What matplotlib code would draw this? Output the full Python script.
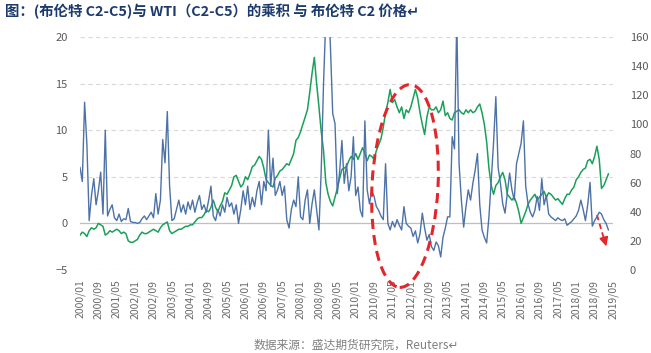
import matplotlib.pyplot as plt
import numpy as np
from matplotlib.lines import Line2D
from matplotlib.patches import Ellipse
from matplotlib.transforms import IdentityTransform

plt.rcParams['font.family'] = ['Noto Sans CJK SC', 'DejaVu Sans']

# monthly readings, 2000/01 onwards
# (Brent C2-C5) x (WTI C2-C5), left axis
product = [
    6.0, 4.5, 13.0, 8.5, 0.3, 3.0, 4.8, 2.0, 3.5, 5.5,
    1.0, 10.0, 0.8, 1.5, 2.0, 0.6, 0.3, 1.0, 0.2, 0.5,
    0.4, 1.6, 0.2, 0.1, 0.1, 0.0, 0.1, 0.5, 0.8, 0.4,
    0.8, 1.2, 0.6, 3.2, 1.0, 2.5, 9.0, 6.5, 12.0, 4.0,
    0.3, 0.5, 1.5, 2.5, 1.2, 2.0, 1.0, 2.3, 1.5, 2.5,
    1.2, 2.2, 3.0, 1.5, 2.0, 1.2, 2.5, 4.0, 0.8, 0.3,
    1.5, 0.8, 2.0, 1.2, 2.8, 1.8, 2.2, 1.0, 2.0, 0.0,
    1.5, 3.5, 2.0, 4.0, 1.5, 2.8, 1.8, 3.5, 4.5, 2.0,
    4.5, 3.5, 10.0, 4.0, 7.0, 3.0, 3.6, 4.5, 3.0, 4.0,
    0.4, -0.5, 1.5, 2.5, 1.8, 5.0, 0.7, 0.4, 2.5, 3.6,
    0.0, 2.1, 3.6, 1.5, -0.7, 5.7, 15.0, 22.0, 25.0, 19.0,
    11.8, 10.7, 3.2, 5.5, 8.9, 4.3, 6.4, 3.5, 5.0, 9.3,
    3.0, 3.9, 1.4, 0.7, 11.0, 3.6, 2.1, 3.5, 2.9, 1.8,
    1.4, 0.8, 0.4, 6.4, 0.0, -0.7, 0.2, -0.4, 0.4, -0.2,
    -0.7, 1.8, 0.0, -0.3, -0.5, -1.4, -0.8, -2.1, -1.1, 1.1,
    -0.5, -1.8, -1.2, -2.5, -2.9, -2.0, -2.4, -3.6, -1.5, -0.5,
    0.7, 0.7, 9.3, 8.0, 22.0, 6.4, 2.5, -0.4, 1.8, 3.6,
    2.5, 4.3, 5.7, 7.5, 2.0, -0.7, -1.5, -2.1, 0.7, 4.6,
    8.6, 13.6, 6.0, 4.3, 2.1, 1.1, 3.2, 5.4, 3.6, 2.5,
    6.4, 7.5, 8.6, 11.0, 4.0, 2.1, 1.2, 0.7, 1.4, 2.9,
    1.4, 4.8, 2.0, 3.0, 1.0, 0.7, 0.5, 0.3, 0.6, 0.4,
    0.3, 0.5, -0.2, 0.0, 0.2, 0.5, 0.8, 1.4, 2.5, 1.5,
    0.3, 2.0, 4.4, -0.3, 0.3, 0.7, 1.2, 1.0, 0.4, 0.0,
    -0.7,
]

# Brent C2 price, right axis
brent_c2 = [
    24, 26, 25, 23, 27, 29, 28, 29, 32, 31,
    30, 24, 25, 27, 26, 27, 28, 27, 25, 26,
    25, 20, 19, 19, 20, 21, 24, 26, 25, 25,
    26, 27, 28, 27, 26, 29, 31, 32, 33, 27,
    25, 26, 27, 28, 28, 29, 30, 30, 31, 31,
    33, 35, 36, 36, 38, 41, 40, 43, 48, 43,
    40, 44, 47, 53, 52, 55, 58, 64, 65, 61,
    57, 59, 64, 62, 66, 71, 72, 75, 78, 76,
    70, 62, 60, 58, 57, 63, 65, 68, 69, 71,
    73, 72, 76, 80, 89, 91, 95, 100, 105, 110,
    122, 135, 146, 128, 112, 95, 82, 60, 52, 47,
    44, 50, 56, 63, 69, 70, 71, 75, 78, 76,
    80, 76, 80, 84, 80, 75, 79, 78, 76, 82,
    86, 90, 98, 108, 115, 124, 115, 117, 112, 108,
    112, 104, 110, 108, 112, 118, 124, 118, 108, 100,
    93, 105, 112, 110, 110, 112, 108, 110, 116, 106,
    108, 104, 103, 108, 109, 110, 108, 107, 110, 108,
    110, 108, 109, 112, 114, 108, 100, 88, 70, 58,
    52, 58, 60, 64, 67, 62, 52, 50, 48, 50,
    46, 40, 32, 36, 40, 45, 48, 50, 52, 48,
    50, 52, 54, 50, 53, 52, 50, 48, 49, 47,
    45, 49, 52, 52, 55, 57, 62, 64, 67, 69,
    70, 75, 76, 73, 78, 85, 76, 56, 58, 62,
    66,
]

tick_labels = [
    '2000/01', '2000/09', '2001/05', '2002/01', '2002/09', '2003/05',
    '2004/01', '2004/09', '2005/05', '2006/01', '2006/09', '2007/05',
    '2008/01', '2008/09', '2009/05', '2010/01', '2010/09', '2011/05',
    '2012/01', '2012/09', '2013/05', '2014/01', '2014/09', '2015/05',
    '2016/01', '2016/09', '2017/05', '2018/01', '2018/09', '2019/05',
]
left_ticks = [-5, 0, 5, 10, 15, 20]
right_ticks = [0, 20, 40, 60, 80, 100, 120, 140, 160]

W, H = 651, 353
fig = plt.figure(figsize=(W / 100, H / 100), dpi=100)
ax = fig.add_axes([80 / W, 1 - 270 / H, 533 / W, 233 / H])
ax2 = ax.twinx()

# blue drawn above green
ax.set_zorder(2)
ax.patch.set_visible(False)

x = np.arange(len(product))
ax2.plot(x, brent_c2, color='#1aa05a', lw=1.1)
ax.plot(x, product, color='#4d72a7', lw=1.0)

# gridlines of the left axis, drawn on the back axes
for v in left_ticks:
    yv = (v + 5) * 160 / 25
    if v == 0:
        ax2.axhline(yv, color='#bfbfbf', lw=0.9, zorder=0)
    else:
        ax2.axhline(yv, color='#d9d9d9', lw=0.8, ls=(0, (4, 3)), zorder=0)

ax.set_ylim(-5, 20)
ax2.set_ylim(0, 160)
ax.set_xlim(0, 232)
ax.set_yticks(left_ticks)
ax2.set_yticks(right_ticks)
ax.set_xticks(np.arange(len(tick_labels)) * 8)
ax.set_xticklabels(tick_labels, rotation=90)

for a in (ax, ax2):
    for s in a.spines.values():
        s.set_visible(False)
ax.tick_params(axis='both', length=0, labelsize=8, labelcolor='#595959')
ax.tick_params(axis='x', pad=7, labelsize=7.5, labelcolor='#6a6a6a')
ax.tick_params(axis='y', pad=9)
ax2.tick_params(axis='y', length=0, pad=12, labelsize=8, labelcolor='#595959')

# red dashed ellipse and arrow, in figure pixels
red = '#e3262b'
ell = Ellipse((405, H - 186), 66, 203, angle=-3, fill=False, ec=red,
              lw=2.2, ls=(0, (3.3, 2)), transform=IdentityTransform(), zorder=10)
fig.patches.append(ell)
fig.add_artist(Line2D([597 / W, 604 / W], [1 - 215 / H, 1 - 239 / H],
                      transform=fig.transFigure, color=red, lw=1.3,
                      ls=(0, (3, 2))))
fig.add_artist(plt.Annotation('', xy=(607 / W, 1 - 249 / H),
                              xytext=(604.5 / W, 1 - 240 / H),
                              xycoords='figure fraction',
                              arrowprops=dict(arrowstyle='-|>', color=red,
                                              lw=1.2, mutation_scale=13)))

fig.text(5 / W, 1 - 11 / H,
         '图：(布伦特 C2-C5)与 WTI（C2-C5）的乘积 与 布伦特 C2 价格↵',
         fontsize=10.4, fontweight='bold', color='#1c3a6c', ha='left', va='center')
fig.text(356 / W, 1 - 345 / H, '数据来源：盛达期货研究院，Reuters↵',
         fontsize=8.5, style='italic', color='#808080', ha='center', va='center')

fig.savefig('out.png', dpi=100)
